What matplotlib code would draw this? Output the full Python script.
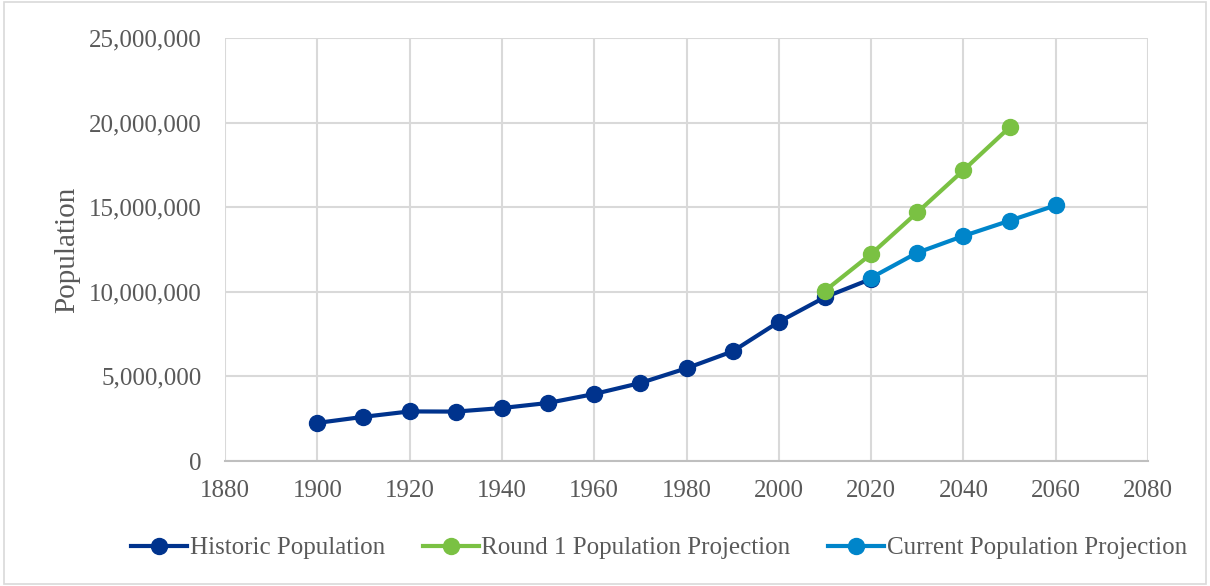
import matplotlib
matplotlib.use("Agg")
import matplotlib.pyplot as plt
from matplotlib.ticker import FuncFormatter, MultipleLocator
from matplotlib.patches import Rectangle

hist_years = [1900, 1910, 1920, 1930, 1940, 1950, 1960, 1970, 1980, 1990, 2000, 2010, 2020]
hist_pop = [2250000, 2610000, 2930000, 2920000, 3130000, 3430000, 3960000, 4610000,
            5480000, 6480000, 8220000, 9680000, 10760000]
r1_years = [2010, 2020, 2030, 2040, 2050]
r1_pop = [10060000, 12230000, 14690000, 17180000, 19720000]
cur_years = [2020, 2030, 2040, 2050, 2060]
cur_pop = [10830000, 12310000, 13300000, 14200000, 15110000]

plt.rcParams['font.family'] = ['Liberation Serif', 'DejaVu Serif']
txt = '#595959'

fig = plt.figure(figsize=(12.1, 5.86), dpi=100)
fig.patches.append(Rectangle((0.003, 0.003), 0.994, 0.994, transform=fig.transFigure,
                             fill=False, edgecolor='#D9D9D9', linewidth=1.2))
ax = fig.add_axes([225/1210, 1-461/586, (1148-225)/1210, (461-38)/586])

ax.plot(hist_years, hist_pop, color='#00338D', lw=3, marker='o', ms=11.5,
        label='Historic Population', zorder=3)
ax.plot(r1_years, r1_pop, color='#7AC143', lw=3, marker='o', ms=11.5,
        label='Round 1 Population Projection', zorder=4)
ax.plot(cur_years, cur_pop, color='#0085CA', lw=3, marker='o', ms=11.5,
        label='Current Population Projection', zorder=5)

ax.set_xlim(1880, 2080)
ax.set_ylim(0, 25000000)
ax.xaxis.set_major_locator(MultipleLocator(20))
ax.yaxis.set_major_locator(MultipleLocator(5000000))
ax.yaxis.set_major_formatter(FuncFormatter(lambda v, p: f'{int(v):,}'))
ax.grid(True, color='#D9D9D9', lw=1.5)
ax.set_axisbelow(True)
for s in ['top', 'right', 'left']:
    ax.spines[s].set_visible(False)
ax.spines['bottom'].set_color('#BFBFBF')
ax.spines['bottom'].set_linewidth(1.5)
ax.tick_params(length=0, labelsize=18, colors=txt)
ax.tick_params(axis='x', pad=14)
ax.tick_params(axis='y', pad=17)
ax.set_ylabel('Population', fontsize=21, color=txt, labelpad=6)

fig.legend(loc='center', bbox_to_anchor=(659/1210, 1-548/586), ncol=3, frameon=False,
           fontsize=18, labelcolor=txt, handlelength=2.25, handletextpad=0.1,
           columnspacing=1.5)

fig.savefig('out.png', dpi=100)
